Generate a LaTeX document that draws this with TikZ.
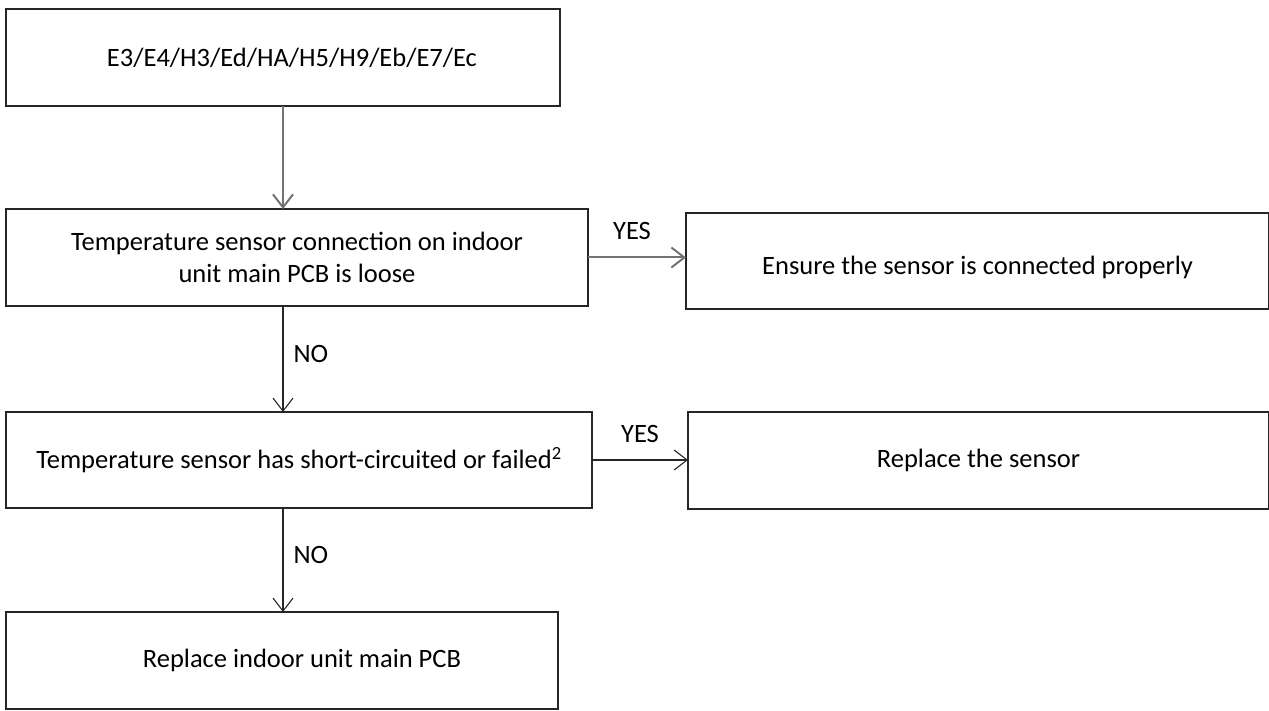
\documentclass[tikz,border=0pt]{standalone}
\usepackage{fontspec}
\setmainfont{Carlito}
\usetikzlibrary{arrows.meta,positioning}
\newcommand{\boxfont}{\fontsize{26.5}{31.5}\selectfont}

\begin{document}
\begin{tikzpicture}[x=1pt, y=1pt,
    block/.style={rectangle, draw=black!85, line width=1.5pt, inner sep=0pt, outer sep=0pt, align=center, minimum height=97pt, font=\boxfont},
    line/.style={draw=black!85, line width=1.1pt, -{Straight Barb[length=13pt, width=20pt]}},
    softline/.style={line, draw=black!55, line width=2pt},
    tag/.style={inner sep=0pt, font=\boxfont}]

    \useasboundingbox (0,0) rectangle (1269,-711);

    % Nodes
    \node [block, minimum width=554pt, anchor=north west] (codes) at (6,-9) {\hspace*{18pt}E3/E4/H3/Ed/HA/H5/H9/Eb/E7/Ec};
    \node [block, minimum width=582pt, below=103pt of codes.south west, anchor=north west] (loose) {Temperature sensor connection on indoor\\unit main PCB is loose};
    \node [block, minimum width=583pt, minimum height=96pt, right=98pt of loose.north east, anchor=north west, yshift=-4pt] (connect) {\raisebox{-6pt}[\height][\depth]{Ensure the sensor is connected properly}};
    \node [block, minimum width=586pt, minimum height=96pt, below=106pt of loose.south west, anchor=north west] (shorted) {Temperature sensor has short-circuited or failed\textsuperscript{2}};
    \node [block, minimum width=581pt, right=96pt of shorted.north east, anchor=north west] (sensor) {Replace the sensor};
    \node [block, minimum width=552pt, below=104pt of shorted.south west, anchor=north west] (board) {\hspace*{40pt}Replace indoor unit main PCB};

    % Edges
    \path [softline] (codes.south) -- (codes.south |- loose.north);
    \path [softline] (loose.east) -- node[tag, midway, above=17pt, xshift=-5pt] {YES} (loose.east -| connect.west);
    \path [line] (codes.south |- loose.south) -- node[tag, midway, right=10pt, yshift=5pt] {NO} (codes.south |- shorted.north);
    \path [line] (shorted.east) -- node[tag, midway, above=17pt] {YES} (shorted.east -| sensor.west);
    \path [line] (codes.south |- shorted.south) -- node[tag, midway, right=10pt, yshift=5pt] {NO} (codes.south |- board.north);
  \end{tikzpicture}
\end{document}
